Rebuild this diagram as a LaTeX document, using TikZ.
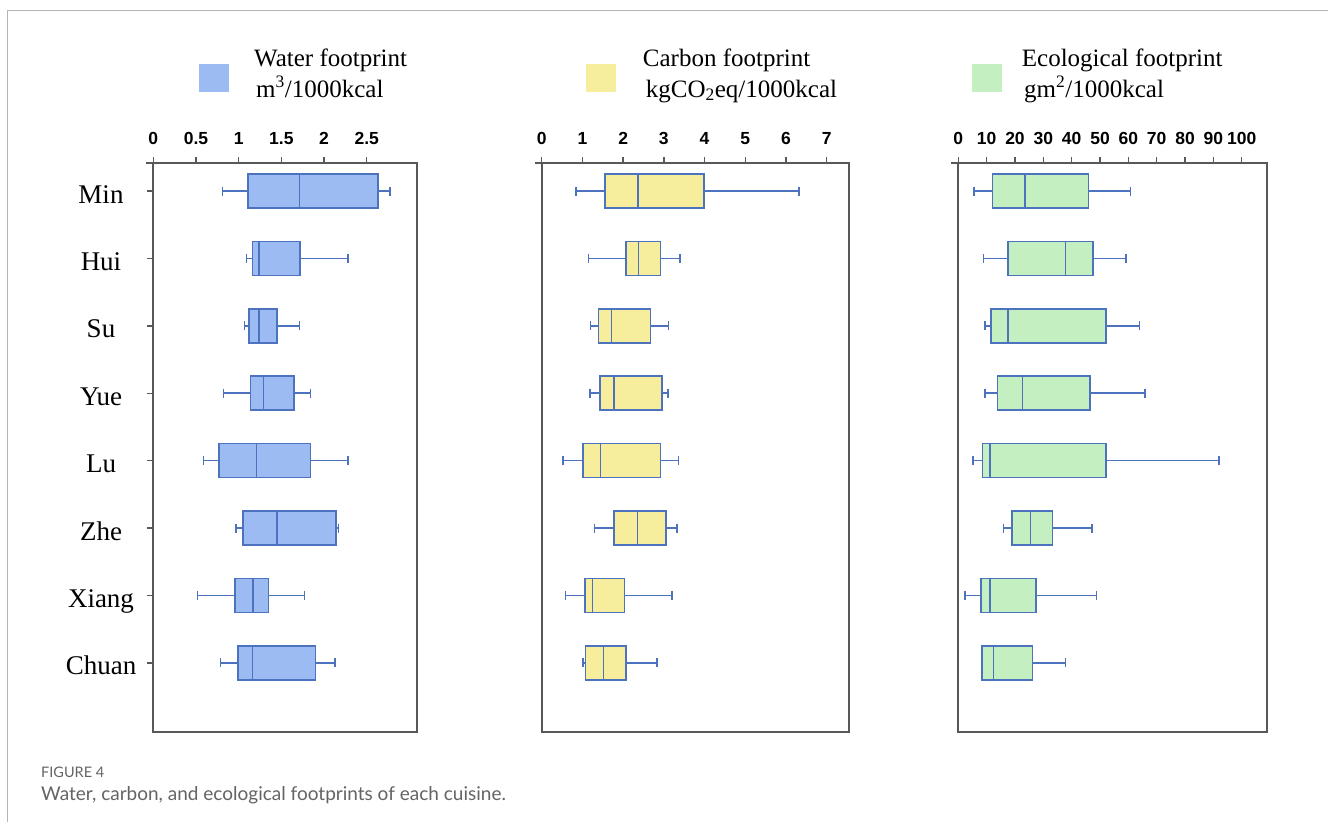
\documentclass[tikz,border=0pt]{standalone}
\usepackage{fontspec}
\setmainfont{Liberation Serif}
\newfontfamily\ticksfont{Liberation Sans}
\newfontfamily\capfont{Lato}
\usetikzlibrary{positioning}

\definecolor{waterfill}{HTML}{9CBBF3}
\definecolor{carbonfill}{HTML}{F6EE9C}
\definecolor{ecofill}{HTML}{C3EFC1}
\definecolor{boxline}{HTML}{4D72BE}
\definecolor{framegray}{HTML}{585858}
\definecolor{pagegray}{HTML}{B4B4B4}
\definecolor{captiongray}{HTML}{646464}

\tikzset{
  panel/.style={draw=framegray,line width=2pt},
  axistick/.style={draw=framegray,line width=1.4pt},
  iqr/.style={draw=boxline,line width=1.5pt},
  whisker/.style={draw=boxline,line width=1.5pt},
  ticklabel/.style={font=\ticksfont\bfseries\fontsize{17.5}{20}\selectfont,anchor=base,inner sep=0pt},
  catlabel/.style={font=\fontsize{27}{30}\selectfont,anchor=base,inner sep=0pt},
  legtext/.style={font=\fontsize{25}{28}\selectfont,anchor=base west,inner sep=0pt},
  legkey/.style={minimum width=30pt,minimum height=28pt,inner sep=0pt}
}

% one box plot row: y, lower whisker, q1, median, q3, upper whisker
\newcommand{\cuisinebox}[6]{
  \draw[whisker] (#2,#1) -- (#3,#1) (#5,#1) -- (#6,#1)
    (#2,#1-4.5) -- (#2,#1+4.5) (#6,#1-4.5) -- (#6,#1+4.5);
  \draw[iqr] (#3,#1-17) rectangle (#5,#1+17);
  \draw[whisker] (#4,#1-17) -- (#4,#1+17);
}

\begin{document}
\begin{tikzpicture}[x=1pt,y=-1pt]
  \useasboundingbox[fill=white] (0,0) rectangle (1328,822);
  \draw[pagegray,line width=1pt] (7,822) -- (7,10) -- (1328,10);

  % legends
  \node[legkey,fill=waterfill] (key water) at (214,78) {};
  \node[legtext] (leg water) at (254,66) {Water footprint};
  \node[legtext] (unit water) at (256,97) {m\textsuperscript{3}/1000kcal};
  \node[legkey,fill=carbonfill] (key carbon) at (600.5,78) {};
  \node[legtext] (leg carbon) at (642.7,66) {Carbon footprint};
  \node[legtext] (unit carbon) at (645.7,97) {kgCO\textsubscript{2}eq/1000kcal};
  \node[legkey,fill=ecofill] (key eco) at (987,78) {};
  \node[legtext] (leg eco) at (1021.7,66) {Ecological footprint};
  \node[legtext] (unit eco) at (1024,97) {gm\textsuperscript{2}/1000kcal};

  % panel frames
  \foreach \l/\r in {153.3/417, 541.7/849.3, 958.3/1267.3} {
    \draw[panel] (\l,163) rectangle (\r,732);
    \draw[axistick] (\l-7,163) -- (\l,163);
  }

  % cuisines
  \foreach \name [count=\i from 0] in {Min,Hui,Su,Yue,Lu,Zhe,Xiang,Chuan} {
    \pgfmathsetmacro\ry{191+67.4*\i}
    \node[catlabel] (cat \name) at (101,\ry+12) {\name};
    \draw[axistick] (147,\ry) -- (153.3,\ry);
  }

  % water footprint
  \begin{scope}[xshift=153.3pt,x=85.36pt,iqr/.append style={fill=waterfill}]
    \foreach \v in {0,0.5,1,1.5,2,2.5} {
      \draw[axistick] (\v,163) -- (\v,157);
      \node[ticklabel] at (\v,144) {\v};
    }
    \foreach \lo/\qa/\md/\qb/\hi [count=\i from 0] in {
      0.81/1.11/1.71/2.63/2.77, 1.09/1.16/1.24/1.72/2.28,
      1.07/1.12/1.24/1.45/1.71, 0.82/1.14/1.29/1.65/1.84,
      0.59/0.77/1.21/1.84/2.28, 0.97/1.05/1.45/2.14/2.17,
      0.52/0.96/1.17/1.35/1.77, 0.79/0.99/1.16/1.90/2.13} {
      \pgfmathsetmacro\ry{191+67.4*\i}
      \cuisinebox{\ry}{\lo}{\qa}{\md}{\qb}{\hi}
    }
  \end{scope}

  % carbon footprint
  \begin{scope}[xshift=541.7pt,x=40.71pt,iqr/.append style={fill=carbonfill}]
    \foreach \v in {0,...,7} {
      \draw[axistick] (\v,163) -- (\v,157);
      \node[ticklabel] at (\v,144) {\v};
    }
    \foreach \lo/\qa/\md/\qb/\hi [count=\i from 0] in {
      0.84/1.56/2.37/3.99/6.32, 1.15/2.07/2.38/2.92/3.40,
      1.20/1.39/1.71/2.67/3.11, 1.19/1.43/1.78/2.96/3.10,
      0.52/1.02/1.45/2.92/3.36, 1.30/1.78/2.35/3.05/3.32,
      0.59/1.06/1.25/2.03/3.20, 1.01/1.07/1.52/2.07/2.83} {
      \pgfmathsetmacro\ry{191+67.4*\i}
      \cuisinebox{\ry}{\lo}{\qa}{\md}{\qb}{\hi}
    }
  \end{scope}

  % ecological footprint
  \begin{scope}[xshift=958.3pt,x=2.834pt,iqr/.append style={fill=ecofill}]
    \foreach \v in {0,10,...,100} {
      \draw[axistick] (\v,163) -- (\v,157);
      \node[ticklabel] at (\v,144) {\v};
    }
    \foreach \lo/\qa/\md/\qb/\hi [count=\i from 0] in {
      5.5/12.0/23.6/46.0/60.8, 8.8/17.6/37.9/47.6/59.2,
      9.5/11.5/17.6/52.2/63.9, 9.5/13.9/22.7/46.4/65.8,
      5.2/8.5/11.2/52.2/91.9, 16.0/18.9/25.5/33.2/47.2,
      2.3/8.0/11.1/27.5/48.8, 8.1/8.3/12.5/26.1/37.8} {
      \pgfmathsetmacro\ry{191+67.4*\i}
      \cuisinebox{\ry}{\lo}{\qa}{\md}{\qb}{\hi}
    }
  \end{scope}

  % caption
  \node[font=\capfont\fontsize{14.5}{18}\selectfont,text=captiongray,anchor=base west,inner sep=0pt]
    (fig no) at (41,777) {FIGURE 4};
  \node[font=\capfont\fontsize{19}{22}\selectfont,text=captiongray,anchor=base west,inner sep=0pt]
    (fig caption) at (41,800) {Water, carbon, and ecological footprints of each cuisine.};
\end{tikzpicture}
\end{document}
